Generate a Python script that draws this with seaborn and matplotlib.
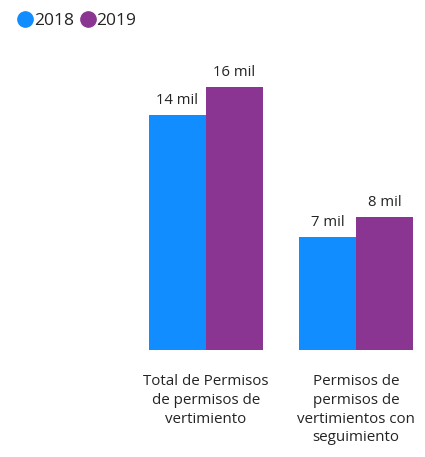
import matplotlib
matplotlib.use("Agg")
import matplotlib.pyplot as plt
import seaborn as sns
import pandas as pd
from matplotlib.lines import Line2D

categories = ["Total de Permisos\nde permisos de\nvertimiento",
              "Permisos de\npermisos de\nvertimientos con\nseguimiento"]
years = ["2018", "2019"]
values_2018 = [14300, 6900]
values_2019 = [16000, 8100]
labels_2018 = ["14 mil", "7 mil"]
labels_2019 = ["16 mil", "8 mil"]
colors = ["#118DFF", "#8A3592"]

df = pd.DataFrame({
    "cat": categories * 2,
    "year": [years[0]] * 2 + [years[1]] * 2,
    "value": values_2018 + values_2019,
})

sns.set_theme(style="white")
plt.rcParams['font.family'] = ['Open Sans', 'DejaVu Sans']

fig = plt.figure(figsize=(4.25, 4.57), dpi=100)
ax = fig.add_axes([131/425, (457-350)/457, (425-131)/425, 290/457])
sns.barplot(data=df, x="cat", y="value", hue="year", palette=colors,
            width=0.76, saturation=1, ax=ax, legend=False, edgecolor="none")
ax.set_xlim(-0.5, 1.46)
ax.set_ylim(0, 17640)
for c, labs in zip(ax.containers, [labels_2018, labels_2019]):
    ax.bar_label(c, labels=labs, padding=5, fontsize=10.7, color="#252423")
ax.set_yticks([])
ax.set_xlabel("")
ax.set_ylabel("")
ax.tick_params(axis="x", length=0, pad=17, labelsize=10.9, labelcolor="#252423")
for lab in ax.get_xticklabels():
    lab.set_linespacing(1.36)
for s in ax.spines.values():
    s.set_visible(False)

handles = [Line2D([], [], marker="o", linestyle="", markersize=11, color=col) for col in colors]
fig.legend(handles, years, loc="upper left", bbox_to_anchor=(0.01, 0.995), frameon=False,
           ncol=2, handletextpad=-0.1, columnspacing=0.2, fontsize=12.5, handlelength=1.2,
           labelcolor="#252423", borderaxespad=0.2)

fig.savefig("out.png", dpi=100)
